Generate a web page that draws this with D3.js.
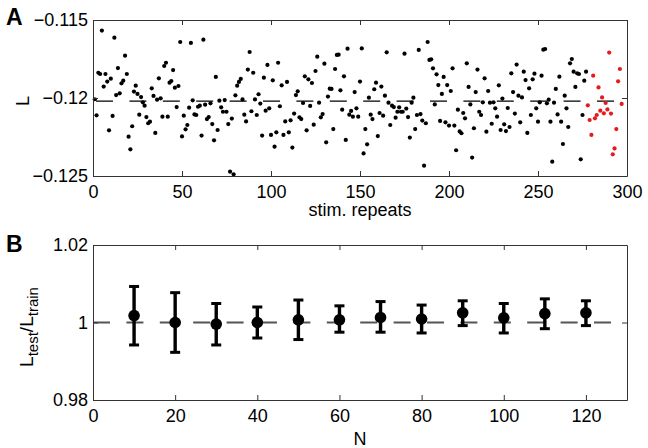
<!DOCTYPE html>
<html lang="en">
<head>
<meta charset="UTF-8">
<title>L vs stim. repeats</title>
<style>
  body { margin: 0; background: #fff; }
  svg { display: block; font-family: "Liberation Sans", Arial, Helvetica, sans-serif; }
</style>
</head>
<body>
<script src="https://cdn.jsdelivr.net/npm/d3@7/dist/d3.min.js"></script>
<script>
// panel A : L for each stim. repeat (black = training repeats, red = held out ones)
const trainL = [
  -0.12008, -0.12111, -0.11838, -0.11846, -0.11568, -0.11927, -0.11846, -0.11895, -0.12207, -0.11876,
  -0.12115, -0.11613, -0.11981, -0.11808, -0.1197, -0.11906, -0.11889, -0.11729, -0.11846, -0.12248,
  -0.12329, -0.12181, -0.11959, -0.11921, -0.11974, -0.12107, -0.11994, -0.12028, -0.12049, -0.12122,
  -0.12162, -0.12152, -0.11938, -0.11987, -0.12224, -0.12011, -0.11874, -0.12002, -0.1212, -0.11795,
  -0.11774, -0.1212, -0.11902, -0.11891, -0.11821, -0.11934, -0.12058, -0.11923, -0.11641, -0.12246,
  -0.12113, -0.12201, -0.12173, -0.12062, -0.11647, -0.12015, -0.12105, -0.12109, -0.12056, -0.12049,
  -0.12241, -0.11626, -0.12043, -0.12135, -0.12122, -0.12034, -0.12167, -0.12271, -0.11865, -0.12205,
  -0.12017, -0.1206, -0.12088, -0.12013, -0.12088, -0.12167,
  -0.12472, -0.12132, -0.12489, -0.11983, -0.11921, -0.11897, -0.11878, -0.12009, -0.12107, -0.1215,
  -0.11818, -0.11705, -0.12085, -0.11838, -0.12009, -0.12109, -0.11976, -0.12036, -0.12241, -0.1187,
  -0.12081, -0.11788, -0.12066, -0.12237, -0.11887, -0.12312, -0.1222, -0.11774, -0.12053, -0.11919,
  -0.12237, -0.1215, -0.11897, -0.1222, -0.12143, -0.12318, -0.121, -0.11981, -0.11957, -0.12124,
  -0.12135, -0.12032, -0.11861, -0.12207, -0.1188, -0.12051, -0.11904, -0.12171, -0.11827, -0.11735,
  -0.1203, -0.12124, -0.12103, -0.1178, -0.12284, -0.11991, -0.1194, -0.11942, -0.12199, -0.11814,
  -0.11724, -0.11722, -0.11951, -0.12075, -0.11861, -0.12269, -0.11684, -0.12107, -0.12083, -0.1212,
  -0.11962, -0.12066,
  -0.1212, -0.11895, -0.11682, -0.12355, -0.12199, -0.12297, -0.11998, -0.12107, -0.12135, -0.11944,
  -0.11902, -0.12244, -0.12096, -0.11927, -0.12113, -0.11985, -0.11707, -0.1203, -0.12173, -0.12049,
  -0.12058, -0.12126, -0.12088, -0.1206, -0.12088, -0.12088, -0.11716, -0.12068, -0.12122, -0.12254,
  -0.1203, -0.11998, -0.12199, -0.12109, -0.11692, -0.12103, -0.12145, -0.12434, -0.12162, -0.11641,
  -0.11756, -0.11752, -0.1181, -0.12041, -0.11848, -0.11917, -0.12147, -0.11974, -0.11865, -0.12156,
  -0.11917, -0.12177, -0.11955, -0.1181, -0.12177, -0.12335, -0.12075, -0.12214, -0.12226, -0.12096,
  -0.1213, -0.11778, -0.11929, -0.12041, -0.12382, -0.12194, -0.11962, -0.11818, -0.12088, -0.12109,
  -0.12028, -0.11874, -0.12216, -0.11955, -0.1203,
  -0.12165, -0.12028, -0.12066, -0.1212, -0.11919, -0.12205, -0.12004, -0.12169, -0.12212, -0.12064,
  -0.12186, -0.11842, -0.11962, -0.121, -0.11786, -0.11985, -0.12156, -0.11996, -0.11831, -0.11885,
  -0.12224, -0.11938, -0.12109, -0.1188, -0.11844, -0.12066, -0.12152, -0.12028, -0.11857, -0.1169,
  -0.11686, -0.12034, -0.12011, -0.12152, -0.12408, -0.1203, -0.11942, -0.12105, -0.11863, -0.12152,
  -0.12295, -0.11985, -0.12066, -0.12186, -0.11778, -0.1175, -0.11831, -0.11929, -0.11842, -0.11846,
  -0.12393, -0.12109, -0.11889, -0.11831
];
const testL = [
  -0.12047, -0.12141, -0.12237, -0.11857, -0.1213, -0.12109, -0.11932, -0.12081, -0.11996, -0.12098,
  -0.12032, -0.12073, -0.11709, -0.121, -0.12361, -0.12323, -0.12199, -0.11893, -0.11814, -0.12038
];
const meanL = -0.1202;

// panel B : L_test / L_train against N
const nValues  = [10, 20, 30, 40, 50, 60, 70, 80, 90, 100, 110, 120];
const ratioMid = [1.0018, 1.0, 0.9996, 1.0, 1.0007, 1.0007, 1.0013, 1.0009, 1.0025, 1.0012, 1.0023, 1.0025];
const ratioHi  = [1.0093, 1.0077, 1.0049, 1.004, 1.0058, 1.0043, 1.0054, 1.0045, 1.0056, 1.0049, 1.0061, 1.0056];
const ratioLo  = [0.9942, 0.9923, 0.9942, 0.996, 0.9956, 0.9975, 0.9975, 0.9973, 0.9992, 0.9973, 0.9984, 0.9992];

const xTicksA = [0, 50, 100, 150, 200, 250, 300];
const yTicksA = [-0.125, -0.12, -0.115];
const xTicksB = [0, 20, 40, 60, 80, 100, 120];
const yTicksB = [0.98, 1, 1.02];

const fmt = d3.format("");

const svg = d3.select("body").append("svg")
    .attr("width", 648)
    .attr("height", 448);

// box with inward ticks on the 4 sides, labels only left and bottom
function drawFrame(x, y, xt, yt, top, bottom, left, right) {
    const g = svg.append("g");
    g.append("g").attr("transform", `translate(0,${bottom})`)
        .call(d3.axisBottom(x).tickValues(xt).tickFormat(fmt)
            .tickSizeInner(-5).tickSizeOuter(0).tickPadding(9));
    g.append("g").attr("transform", `translate(0,${top})`)
        .call(d3.axisTop(x).tickValues(xt).tickSizeInner(-5).tickSizeOuter(0).tickFormat(""));
    g.append("g").attr("transform", `translate(${left},0)`)
        .call(d3.axisLeft(y).tickValues(yt).tickFormat(fmt)
            .tickSizeInner(-5).tickSizeOuter(0).tickPadding(5));
    g.append("g").attr("transform", `translate(${right},0)`)
        .call(d3.axisRight(y).tickValues(yt).tickSizeInner(-5).tickSizeOuter(0).tickFormat(""));
    g.selectAll("path.domain, line").attr("stroke", "#333");
    g.selectAll("text")
        .attr("font-family", "Liberation Sans, Arial, sans-serif")
        .attr("font-size", 18)
        .attr("fill", "#000");
    return g;
}

// ---- panel A
const xA = d3.scaleLinear().domain([0, 300]).range([93, 627]);
const yA = d3.scaleLinear().domain([-0.125, -0.115]).range([176, 20]);

svg.append("line")
    .attr("x1", xA(0)).attr("x2", xA(300))
    .attr("y1", yA(meanL)).attr("y2", yA(meanL))
    .attr("stroke", "#000")
    .attr("stroke-width", 1.1)
    .attr("stroke-dasharray", "17,16.4")
    .attr("stroke-dashoffset", 30.4);

svg.append("g").selectAll("circle")
    .data(trainL)
    .join("circle")
        .attr("cx", (d, i) => xA(i + 1))
        .attr("cy", d => yA(d))
        .attr("r", 2.1)
        .attr("fill", "#000");

svg.append("g").selectAll("circle")
    .data(testL)
    .join("circle")
        .attr("cx", (d, i) => xA(trainL.length + i + 1))
        .attr("cy", d => yA(d))
        .attr("r", 2.1)
        .attr("fill", "#e41a1c");

drawFrame(xA, yA, xTicksA, yTicksA, 20, 176, 93, 627);

// ---- panel B
const xB = d3.scaleLinear().domain([0, 130]).range([93, 627]);
const yB = d3.scaleLinear().domain([0.98, 1.02]).range([400, 245]);

svg.append("line")
    .attr("x1", xB(0)).attr("x2", xB(130))
    .attr("y1", yB(1)).attr("y2", yB(1))
    .attr("stroke", "#555")
    .attr("stroke-width", 1.8)
    .attr("stroke-dasharray", "17,16.4");

const bars = svg.append("g").selectAll("g")
    .data(nValues)
    .join("g");

bars.append("line")
    .attr("x1", d => xB(d)).attr("x2", d => xB(d))
    .attr("y1", (d, i) => yB(ratioLo[i])).attr("y2", (d, i) => yB(ratioHi[i]))
    .attr("stroke", "#000").attr("stroke-width", 3.4);
bars.append("line")
    .attr("x1", d => xB(d) - 5).attr("x2", d => xB(d) + 5)
    .attr("y1", (d, i) => yB(ratioHi[i])).attr("y2", (d, i) => yB(ratioHi[i]))
    .attr("stroke", "#000").attr("stroke-width", 3);
bars.append("line")
    .attr("x1", d => xB(d) - 5).attr("x2", d => xB(d) + 5)
    .attr("y1", (d, i) => yB(ratioLo[i])).attr("y2", (d, i) => yB(ratioLo[i]))
    .attr("stroke", "#000").attr("stroke-width", 3);
bars.append("circle")
    .attr("cx", d => xB(d))
    .attr("cy", (d, i) => yB(ratioMid[i]))
    .attr("r", 5.8)
    .attr("fill", "#000");

drawFrame(xB, yB, xTicksB, yTicksB, 245, 400, 93, 627);

// ---- texts
svg.append("text")
    .attr("x", 6).attr("y", 25)
    .attr("font-size", 23).attr("font-weight", "bold")
    .text("A");
svg.append("text")
    .attr("x", 6).attr("y", 252)
    .attr("font-size", 23).attr("font-weight", "bold")
    .text("B");

svg.append("text")
    .attr("transform", "translate(29,101) rotate(-90)")
    .attr("text-anchor", "middle")
    .attr("font-size", 18)
    .text("L");

svg.append("text")
    .attr("x", 360).attr("y", 216)
    .attr("text-anchor", "middle")
    .attr("font-size", 18)
    .text("stim. repeats");

svg.append("text")
    .attr("x", 360).attr("y", 445)
    .attr("text-anchor", "middle")
    .attr("font-size", 18)
    .text("N");

const yLab = svg.append("text")
    .attr("transform", "translate(33,327) rotate(-90)")
    .attr("text-anchor", "middle")
    .attr("font-size", 19);
yLab.append("tspan").text("L");
yLab.append("tspan").attr("dy", 5).attr("font-size", 15).text("test");
yLab.append("tspan").attr("dy", -5).text("/L");
yLab.append("tspan").attr("dy", 5).attr("font-size", 15).text("train");
</script>
</body>
</html>
